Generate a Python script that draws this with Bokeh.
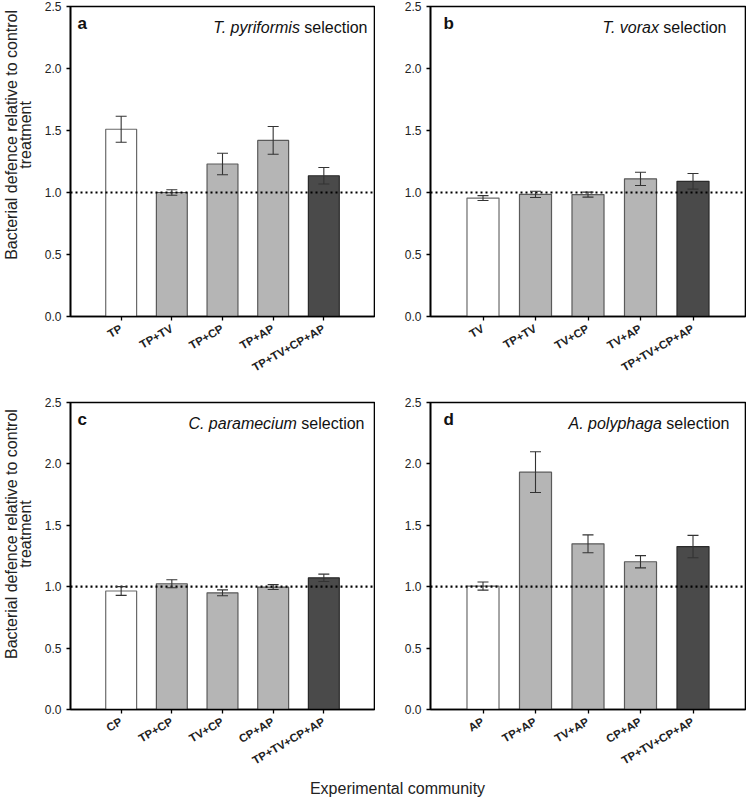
import math
from bokeh.plotting import figure
from bokeh.models import (Range1d, FixedTicker, NumeralTickFormatter, Span, Whisker,
                          TeeHead, ColumnDataSource, Label)
from bokeh.layouts import column, row
from bokeh.embed import file_html
from bokeh.resources import INLINE

FONT = "Liberation Sans"

# ---- data ----
cats_a = ["TP", "TP+TV", "TP+CP", "TP+AP", "TP+TV+CP+AP"]
mean_a = [1.51, 1.00, 1.23, 1.42, 1.135]
se_a = [0.105, 0.022, 0.087, 0.112, 0.067]

cats_b = ["TV", "TP+TV", "TV+CP", "TV+AP", "TP+TV+CP+AP"]
mean_b = [0.955, 0.985, 0.983, 1.11, 1.09]
se_b = [0.02, 0.025, 0.02, 0.053, 0.063]

cats_c = ["CP", "TP+CP", "TV+CP", "CP+AP", "TP+TV+CP+AP"]
mean_c = [0.965, 1.024, 0.95, 0.997, 1.072]
se_c = [0.036, 0.032, 0.024, 0.02, 0.03]

cats_d = ["AP", "TP+AP", "TV+AP", "CP+AP", "TP+TV+CP+AP"]
mean_d = [1.005, 1.933, 1.349, 1.203, 1.327]
se_d = [0.033, 0.166, 0.073, 0.05, 0.091]

letters = ["a", "b", "c", "d"]
species = ["T. pyriformis", "T. vorax", "C. paramecium", "A. polyphaga"]
y_ticks = [0.0, 0.5, 1.0, 1.5, 2.0, 2.5]
y_label_lines = ["Bacterial defence relative to control", "treatment"]
x_label = "Experimental community"
control_level = 1.0


def bar_styles(n):
    fills, lines = [], []
    for i in range(n):
        if i == 0:
            fills.append("#ffffff"); lines.append("#6a6a6a")
        elif i == n - 1:
            fills.append("#4a4a4a"); lines.append("#2a2a2a")
        else:
            fills.append("#b5b5b5"); lines.append("#5a5a5a")
    return fills, lines


def blank(w, h):
    f = figure(width=w, height=h, x_range=Range1d(0, w), y_range=Range1d(0, h),
               toolbar_location=None, x_axis_location=None, y_axis_location=None,
               min_border=0, outline_line_color=None, output_backend="svg")
    f.xgrid.visible = False
    f.ygrid.visible = False
    return f


def ylabel_strip(w, h, yc):
    f = blank(w, h)
    for txt, xb in zip(y_label_lines, (11, 25)):
        f.add_layout(Label(x=xb, y=yc, text=txt, angle=math.pi / 2, text_font=FONT,
                           text_font_size="16px", text_color="#222222",
                           text_align="center", text_baseline="middle"))
    return f


def make_panel(cats, means, ses, letter, sp, fw, fh, bl, br, bt, bb,
               letter_dx, title_dx):
    p = figure(x_range=cats, y_range=Range1d(0, 2.5),
               width=bl + fw + br, height=bt + fh + bb,
               min_border_left=bl, min_border_right=br,
               min_border_top=bt, min_border_bottom=bb,
               toolbar_location=None, output_backend="svg")
    p.x_range.range_padding = 0.2
    fills, lines = bar_styles(len(cats))
    src = ColumnDataSource(dict(
        cat=cats, mean=means,
        upper=[m + s for m, s in zip(means, ses)],
        lower=[m - s for m, s in zip(means, ses)],
        fill=fills, line=lines))
    p.vbar(x="cat", top="mean", bottom=0, width=0.61, source=src,
           fill_color="fill", line_color="line", line_width=1.2)
    p.add_layout(Span(location=control_level, dimension="width",
                      line_color="black", line_width=2.2, line_dash="2 3"))
    w = Whisker(base="cat", upper="upper", lower="lower", source=src,
                line_color="#333333", line_width=1.1,
                upper_head=TeeHead(size=11, line_color="#333333", line_width=1.1),
                lower_head=TeeHead(size=11, line_color="#333333", line_width=1.1))
    w.level = "overlay"
    p.add_layout(w)

    p.xgrid.visible = False
    p.ygrid.visible = False
    p.outline_line_color = "black"
    p.outline_line_width = 1.6
    p.outline_line_alpha = 1.0

    p.yaxis.ticker = FixedTicker(ticks=y_ticks)
    p.yaxis.formatter = NumeralTickFormatter(format="0.0")
    for ax in (p.xaxis[0], p.yaxis[0]):
        ax.axis_line_color = "black"
        ax.axis_line_width = 1.6
        ax.major_tick_line_color = "black"
        ax.major_tick_line_width = 1.3
        ax.major_tick_in = 0
        ax.major_tick_out = 4
        ax.minor_tick_line_color = None
        ax.major_label_text_font = FONT
        ax.major_label_text_color = "#222222"
    p.yaxis.major_label_standoff = 5
    p.xaxis.major_label_standoff = 7
    p.yaxis.major_label_text_font_size = "12px"
    p.xaxis.major_label_text_font_size = "11.5px"
    p.xaxis.major_label_text_font_style = "bold"
    p.xaxis.major_label_orientation = math.pi / 6

    p.add_layout(Label(x=letter_dx, y=2.359, x_units="screen", y_units="data",
                       text=letter, text_font=FONT, text_font_size="17px",
                       text_font_style="bold", text_color="#111111",
                       text_align="left", text_baseline="middle"))
    sel_w = 67.6
    p.add_layout(Label(x=fw - title_dx, y=2.33, x_units="screen", y_units="data",
                       text="selection", text_font=FONT, text_font_size="16px",
                       text_color="#111111", text_align="right",
                       text_baseline="middle"))
    p.add_layout(Label(x=fw - title_dx - sel_w, y=2.33, x_units="screen", y_units="data",
                       text=sp, text_font=FONT, text_font_size="16px",
                       text_font_style="italic", text_color="#111111",
                       text_align="right", text_baseline="middle"))
    return p


STRIP = 40
pa = make_panel(cats_a, mean_a, se_a, letters[0], species[0], 304, 310, 30, 1, 6, 80, 7, 7)
pb = make_panel(cats_b, mean_b, se_b, letters[1], species[1], 315, 310, 55, 1, 6, 80, 13, 19)
pc = make_panel(cats_c, mean_c, se_c, letters[2], species[2], 304, 311, 30, 1, 6, 61, 7, 10)
pd = make_panel(cats_d, mean_d, se_d, letters[3], species[3], 315, 311, 55, 1, 6, 61, 13, 16)

s1 = ylabel_strip(STRIP, 396, 396 - 164)
s2 = ylabel_strip(STRIP, 378, 378 - 162)

pl = blank(746, 25)
pl.add_layout(Label(x=397, y=11, text=x_label, text_font=FONT, text_font_size="16px",
                    text_color="#222222", text_align="center", text_baseline="middle"))

layout = column(row(s1, pa, pb), row(s2, pc, pd), pl)
open("out.html", "w").write(file_html(layout, INLINE))
